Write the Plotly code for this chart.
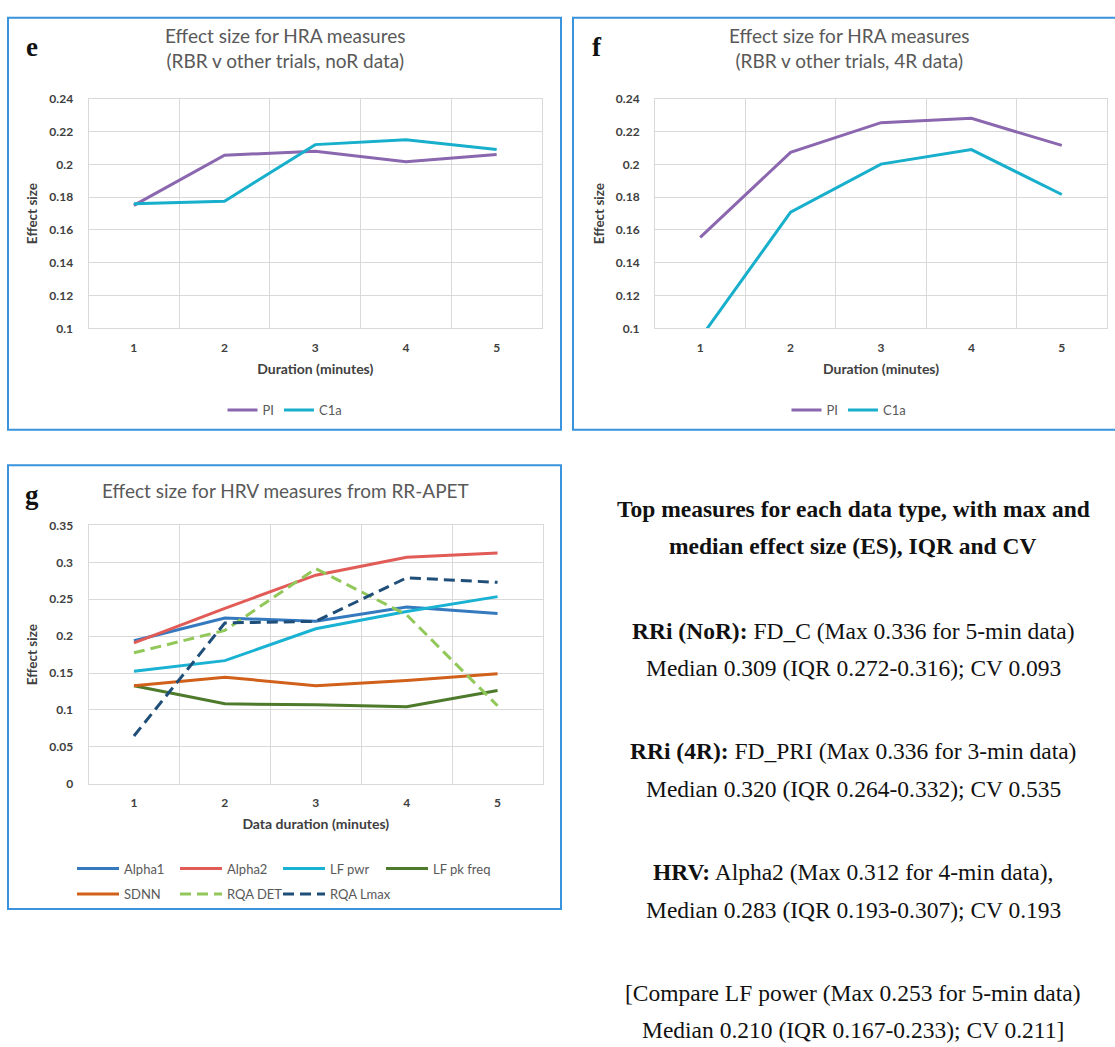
import plotly.graph_objects as go

W, H = 1115, 1047

durations = [1, 2, 3, 4, 5]

# Panel e (noR data)
e_pi = [0.175, 0.2055, 0.208, 0.2015, 0.206]
e_c1a = [0.176, 0.1775, 0.212, 0.215, 0.209]

# Panel f (4R data)
f_pi = [0.1555, 0.2073, 0.2254, 0.228, 0.2115]
f_c1a = [0.094, 0.1708, 0.2001, 0.209, 0.1816]

# Panel g (HRV measures from RR-APET)
g_alpha1 = [0.1937, 0.2245, 0.2201, 0.2395, 0.2307]
g_alpha2 = [0.191, 0.2377, 0.2826, 0.3068, 0.3126]
g_lfpwr = [0.1523, 0.1668, 0.210, 0.2333, 0.2536]
g_lfpk = [0.1329, 0.1083, 0.107, 0.1044, 0.1263]
g_sdnn = [0.1329, 0.1444, 0.1329, 0.140, 0.1492]
g_rqadet = [0.1774, 0.2078, 0.2914, 0.2289, 0.1057]
g_rqalmax = [0.0647, 0.2179, 0.2201, 0.2791, 0.2729]

hra_yticks = [0.1, 0.12, 0.14, 0.16, 0.18, 0.2, 0.22, 0.24]
hra_ylabels = ["0.1", "0.12", "0.14", "0.16", "0.18", "0.2", "0.22", "0.24"]
hrv_yticks = [0, 0.05, 0.1, 0.15, 0.2, 0.25, 0.3, 0.35]
hrv_ylabels = ["0", "0.05", "0.1", "0.15", "0.2", "0.25", "0.3", "0.35"]

text_lines = [
    ("<b>Top measures for each data type, with max and</b>", 508),
    ("<b>median effect size (ES), IQR and CV</b>", 546),
    ("<b>RRi (NoR):</b> FD_C (Max 0.336 for 5-min data)", 632),
    ("Median 0.309 (IQR 0.272-0.316); CV 0.093", 670),
    ("<b>RRi (4R):</b> FD_PRI (Max 0.336 for 3-min data)", 754),
    ("Median 0.320 (IQR 0.264-0.332); CV 0.535", 792),
    ("<b>HRV:</b> Alpha2 (Max 0.312 for 4-min data),", 877),
    ("Median 0.283 (IQR 0.193-0.307); CV 0.193", 915),
    ("[Compare LF power (Max 0.253 for 5-min data)", 999),
    ("Median 0.210 (IQR 0.167-0.233); CV 0.211]", 1037),
]

def px(x):
    return x / W

def py(y):
    return 1 - y / H

SANS = "Lato, 'Open Sans', sans-serif"
SERIF = "'Liberation Serif', 'DejaVu Serif', serif"
GRID = "#D9D9D9"
AX = "#404040"

fig = go.Figure()

def add(x, y, name, color, ax, legend, dash="solid"):
    fig.add_trace(go.Scatter(
        x=x, y=y, name=name, mode="lines",
        line=dict(color=color, width=3, dash=dash),
        xaxis=ax[0], yaxis=ax[1], legend=legend, hoverinfo="skip"))

PURPLE = "#8A67AE"
TEAL = "#17AFCB"

add(durations, e_pi, "PI", PURPLE, ("x", "y"), "legend")
add(durations, e_c1a, "C1a", TEAL, ("x", "y"), "legend")
add(durations, f_pi, "PI", PURPLE, ("x2", "y2"), "legend2")
add(durations, f_c1a, "C1a", TEAL, ("x2", "y2"), "legend2")

g_series = [
    ("Alpha1", g_alpha1, "#3579BF", "solid"),
    ("Alpha2", g_alpha2, "#E15B57", "solid"),
    ("LF pwr", g_lfpwr, "#1AB2D2", "solid"),
    ("LF pk freq", g_lfpk, "#4E7A2C", "solid"),
    ("SDNN", g_sdnn, "#D0601A", "solid"),
    ("RQA DET", g_rqadet, "#92C85A", "11px,6px"),
    ("RQA Lmax", g_rqalmax, "#1F4E79", "11px,6px"),
]
for i, (name, vals, color, dash) in enumerate(g_series):
    add(durations, vals, name, color, ("x3", "y3"), "legend%d" % (i + 3), dash=dash)

def xaxis(domain, anchor, title, standoff):
    return dict(
        domain=domain, anchor=anchor, range=[0.5, 5.5],
        tickvals=durations, ticktext=[str(d) for d in durations],
        showgrid=False, ticks="", zeroline=False,
        showline=True, mirror=True, linecolor=GRID, linewidth=1,
        minor=dict(tick0=0.5, dtick=1, showgrid=True, gridcolor=GRID, gridwidth=1, ticks=""),
        tickfont=dict(family=SANS, size=12, color=AX, weight="bold"),
        ticklabelstandoff=8,
        title=dict(text=title, font=dict(family=SANS, size=14, color=AX, weight="bold"), standoff=standoff),
        fixedrange=True,
    )

def yaxis(domain, anchor, rng, tv, tt):
    return dict(
        domain=domain, anchor=anchor, range=rng,
        tickvals=tv, ticktext=tt,
        showgrid=True, gridcolor=GRID, gridwidth=1, ticks="", zeroline=False,
        showline=True, mirror=True, linecolor=GRID, linewidth=1,
        tickfont=dict(family=SANS, size=12, color=AX, weight="bold"),
        ticklabelstandoff=12,
        title=dict(text="Effect size", font=dict(family=SANS, size=13.5, color=AX, weight="bold"), standoff=8),
        fixedrange=True,
    )

ydom_hra = [py(325), py(92)]
ydom_hrv = [py(787), py(525)]

fig.update_layout(
    width=W, height=H,
    margin=dict(l=0, r=0, t=0, b=0),
    paper_bgcolor="white", plot_bgcolor="white",
    xaxis=xaxis([px(88.5), px(542)], "y", "Duration (minutes)", 10),
    yaxis=yaxis(ydom_hra, "x", [0.1, 0.24], hra_yticks, hra_ylabels),
    xaxis2=xaxis([px(655), px(1107)], "y2", "Duration (minutes)", 10),
    yaxis2=yaxis(ydom_hra, "x2", [0.1, 0.24], hra_yticks, hra_ylabels),
    xaxis3=xaxis([px(88.5), px(543)], "y3", "Data duration (minutes)", 10),
    yaxis3=yaxis(ydom_hrv, "x3", [0, 0.35], hrv_yticks, hrv_ylabels),
    showlegend=True,
)

leg_font = dict(family=SANS, size=13, color="#595959")
common = dict(orientation="h", font=leg_font, bgcolor="rgba(0,0,0,0)",
              itemclick=False, itemdoubleclick=False, yanchor="middle")
legends = dict(
    legend=dict(x=px(285), y=py(408), xanchor="center", **common),
    legend2=dict(x=px(849), y=py(408), xanchor="center", **common),
)
# legend item positions for panel g (symbol left edge, row centre)
g_leg_pos = [(75, 873), (178, 873), (281, 873), (384, 873), (75, 899), (178, 899), (281, 899)]
for i, (lx, ly) in enumerate(g_leg_pos):
    legends["legend%d" % (i + 3)] = dict(x=px(lx - 3), y=py(ly), xanchor="left", itemwidth=42, **common)
fig.update_layout(**legends)

BORDER = "#3A93DD"
for (x0, y0, x1, y1) in [(8, 10, 561, 428), (573, 10, 1125, 428), (8, 464, 561, 914)]:
    fig.add_shape(type="rect", xref="paper", yref="paper",
                  x0=px(x0), x1=px(x1), y0=py(y1), y1=py(y0),
                  line=dict(color=BORDER, width=2), fillcolor="rgba(0,0,0,0)", layer="above")

TITLE_FONT = dict(family=SANS, size=19, color="#595959")
ann = []
ann.append(dict(text="Effect size for HRA measures<br>(RBR v other trials, noR data)", x=px(285), y=py(41),
                font=TITLE_FONT))
ann.append(dict(text="Effect size for HRA measures<br>(RBR v other trials, 4R data)", x=px(849), y=py(41),
                font=TITLE_FONT))
ann.append(dict(text="Effect size for HRV measures from RR-APET", x=px(285), y=py(490), font=TITLE_FONT))
LETTER = dict(family=SERIF, size=27, color="#111111", weight="bold")
ann.append(dict(text="<b>e</b>", x=px(32), y=py(40), font=LETTER))
ann.append(dict(text="<b>f</b>", x=px(597), y=py(40), font=LETTER))
ann.append(dict(text="<b>g</b>", x=px(32), y=py(494), font=LETTER))
for t, yy in text_lines:
    ann.append(dict(text=t, x=px(853), y=py(yy), font=dict(family=SERIF, size=23.5, color="#111111")))
for a in ann:
    a.update(xref="paper", yref="paper", showarrow=False, xanchor="center", yanchor="middle")
fig.update_layout(annotations=ann)

fig.write_html("out.html")
